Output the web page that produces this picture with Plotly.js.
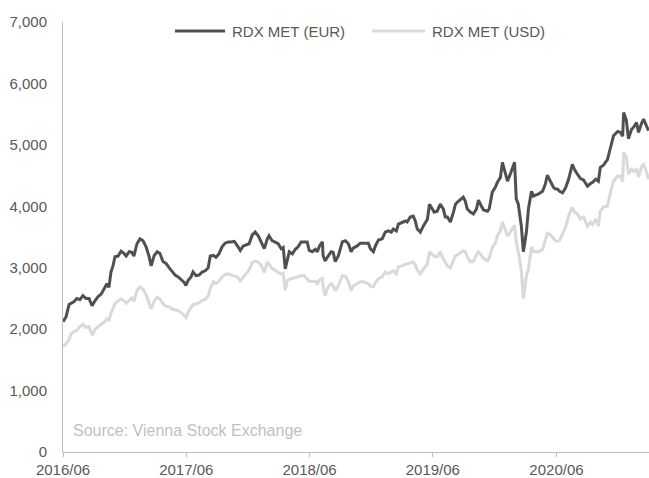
<!DOCTYPE html>
<html>
<head>
<meta charset="utf-8">
<script src="https://cdn.plot.ly/plotly-3.0.1.min.js"></script>
<style>html,body{margin:0;padding:0;background:#fff;}#chart{width:649px;height:478px;}</style>
</head>
<body>
<div id="chart"></div>
<script>
// ---- data ----
const dates = [
"2016-06-01","2016-06-10","2016-06-19","2016-06-25","2016-07-04","2016-07-12","2016-07-21","2016-07-30","2016-08-08","2016-08-17",
"2016-08-26","2016-09-04","2016-09-13","2016-09-22","2016-09-30","2016-10-09","2016-10-15","2016-10-21","2016-10-27","2016-11-02",
"2016-11-11","2016-11-20","2016-11-29","2016-12-05","2016-12-14","2016-12-22","2016-12-28","2017-01-06","2017-01-15","2017-01-24",
"2017-02-02","2017-02-11","2017-02-17","2017-02-26","2017-03-07","2017-03-15","2017-03-24",
"2017-04-02","2017-04-11","2017-04-20","2017-04-29","2017-05-08","2017-05-17","2017-05-26","2017-05-31","2017-06-06","2017-06-15",
"2017-06-21","2017-06-30","2017-07-09","2017-07-18","2017-07-27","2017-08-05","2017-08-11","2017-08-20","2017-08-28","2017-09-06",
"2017-09-15","2017-09-24","2017-10-03","2017-10-12","2017-10-21","2017-10-30","2017-11-08","2017-11-16","2017-11-25","2017-12-04",
"2017-12-13","2017-12-22","2017-12-31","2018-01-09","2018-01-18",
"2018-01-27","2018-02-01","2018-02-10","2018-02-19","2018-02-28","2018-03-09","2018-03-15","2018-03-21","2018-03-27","2018-04-02",
"2018-04-11","2018-04-20","2018-04-28","2018-05-07","2018-05-16","2018-05-25","2018-05-31","2018-06-09","2018-06-18","2018-06-24",
"2018-06-30","2018-07-09","2018-07-11","2018-07-17","2018-07-26","2018-08-04","2018-08-10","2018-08-16","2018-08-25","2018-09-06",
"2018-09-15","2018-09-24","2018-10-02","2018-10-08","2018-10-20","2018-10-29","2018-11-07",
"2018-11-13","2018-11-22","2018-11-28","2018-12-07","2018-12-13","2018-12-22","2019-01-02","2019-01-11","2019-01-20","2019-01-29",
"2019-02-04","2019-02-13","2019-02-19","2019-03-03","2019-03-12","2019-03-17","2019-03-26","2019-04-04","2019-04-10","2019-04-16",
"2019-04-25","2019-05-04","2019-05-16","2019-05-22","2019-05-31","2019-06-05","2019-06-14","2019-06-23","2019-07-02","2019-07-08",
"2019-07-14","2019-07-23","2019-08-01","2019-08-07","2019-08-13","2019-08-22","2019-08-30","2019-09-05",
"2019-09-11","2019-09-20","2019-09-29","2019-10-08","2019-10-14","2019-10-23","2019-10-29","2019-11-10","2019-11-15","2019-11-24",
"2019-12-03","2019-12-09","2019-12-18","2019-12-24","2019-12-30","2020-01-08","2020-01-14","2020-01-23","2020-01-29","2020-02-03",
"2020-02-09","2020-02-18","2020-02-24","2020-03-04","2020-03-10","2020-03-19","2020-03-25","2020-03-31","2020-04-09","2020-04-21",
"2020-04-29","2020-05-05","2020-05-14","2020-05-23","2020-05-29","2020-06-04","2020-06-10",
"2020-06-19","2020-06-28","2020-07-07","2020-07-18","2020-07-24","2020-08-02","2020-08-11","2020-08-20","2020-09-01","2020-09-10",
"2020-09-16","2020-09-25","2020-10-03","2020-10-09","2020-10-18","2020-10-30","2020-11-08","2020-11-17","2020-11-29","2020-12-08",
"2020-12-14","2020-12-17","2020-12-25","2020-12-31","2021-01-09","2021-01-15","2021-01-24","2021-01-30","2021-02-08","2021-02-14",
"2021-02-23","2021-03-01"
];

const rdxEur = [
2120,2200,2400,2420,2450,2500,2480,2545,2500,2500,
2380,2465,2530,2570,2640,2740,2680,2930,3030,3180,
3190,3270,3230,3190,3260,3250,3190,3390,3470,3440,
3340,3180,3030,3200,3260,3230,3100,
3070,3000,2930,2880,2850,2800,2760,2710,2790,2850,
2930,2870,2880,2930,2950,3000,3190,3200,3170,3230,
3340,3400,3420,3420,3430,3360,3280,3350,3370,3390,
3530,3580,3520,3420,3310,
3470,3520,3440,3420,3390,3310,3330,2980,3110,3260,
3225,3300,3340,3420,3420,3420,3280,3260,3300,3260,
3350,3420,3200,3110,3190,3260,3250,3100,3190,3420,
3440,3390,3260,3320,3355,3400,3400,
3400,3400,3310,3260,3355,3450,3470,3580,3600,3580,
3630,3600,3710,3745,3760,3745,3825,3840,3760,3630,
3580,3680,3790,4035,3955,3905,3920,4035,3955,3825,
3825,3745,3905,4035,4070,4120,4150,4085,
3955,3905,3875,3955,4100,4000,3940,3920,3960,4230,
4310,4390,4470,4715,4600,4410,4490,4635,4715,4120,
4035,3680,3260,3580,3955,4245,4165,4180,4200,4245,
4360,4505,4410,4310,4280,4280,4245,
4220,4300,4440,4684,4603,4522,4450,4430,4327,4370,
4392,4440,4408,4635,4668,4760,4959,5150,5219,5200,
5140,5527,5400,5100,5251,5284,5365,5203,5350,5420,
5300,5230
];

const rdxUsd = [
1720,1760,1830,1930,1960,1980,2040,2075,2030,2040,
1900,1995,2040,2070,2110,2170,2150,2260,2330,2415,
2460,2490,2460,2420,2470,2510,2450,2630,2690,2650,
2560,2420,2330,2460,2520,2490,2415,
2370,2365,2330,2315,2300,2270,2210,2190,2270,2340,
2400,2410,2430,2470,2485,2540,2660,2770,2745,2780,
2850,2890,2900,2880,2870,2850,2790,2840,2890,2960,
3080,3110,3090,3040,2920,
3096,3060,2990,2960,2920,2900,2910,2630,2790,2810,
2820,2840,2855,2870,2870,2820,2780,2775,2780,2740,
2800,2830,2700,2545,2690,2740,2700,2626,2700,2870,
2860,2770,2630,2700,2740,2770,2770,
2755,2740,2700,2690,2760,2820,2850,2930,2900,2930,
2950,2900,3015,3030,3060,3060,3080,3096,3050,2960,
2900,2980,3060,3258,3209,3190,3177,3258,3144,3080,
3031,3000,3100,3193,3210,3250,3274,3260,
3177,3096,3100,3210,3258,3200,3150,3115,3160,3330,
3400,3517,3600,3744,3663,3517,3560,3640,3690,3420,
3258,2950,2496,2869,2982,3339,3258,3265,3258,3300,
3468,3560,3540,3468,3436,3430,3440,
3550,3663,3841,3987,3906,3874,3792,3825,3679,3744,
3700,3792,3680,3922,3987,4003,4230,4408,4489,4489,
4400,4878,4797,4522,4603,4570,4600,4480,4651,4680,
4550,4440
];

const seriesNames = ["RDX MET (EUR)", "RDX MET (USD)"];
const tickDates = ["2016-06-01","2017-06-01","2018-06-01","2019-06-01","2020-06-01"];
const tickLabels = ["2016/06","2017/06","2018/06","2019/06","2020/06"];
const sourceText = "Source: Vienna Stock Exchange";

// ---- styles ----
const eurColor = "#505050";
const usdColor = "#d9d9d9";
const textColor = "#595959";
const font = "Liberation Sans, Arial, sans-serif";

const traces = [
  {x: dates, y: rdxUsd, name: seriesNames[1], type: "scatter", mode: "lines",
   line: {color: usdColor, width: 3}},
  {x: dates, y: rdxEur, name: seriesNames[0], type: "scatter", mode: "lines",
   line: {color: eurColor, width: 3}}
];

const layout = {
  width: 649, height: 478,
  margin: {l: 63, r: 0, t: 22, b: 26, pad: 0},
  paper_bgcolor: "#fff", plot_bgcolor: "#fff",
  font: {family: font, size: 15, color: textColor},
  showlegend: false,
  xaxis: {
    type: "date",
    range: ["2016-06-01", "2021-03-02"],
    tickvals: tickDates, ticktext: tickLabels,
    showgrid: false, zeroline: false,
    showline: true, linecolor: "#bfbfbf", linewidth: 1,
    ticks: "outside", ticklen: 4, tickcolor: "#bfbfbf",
    tickfont: {family: font, size: 15, color: textColor}
  },
  yaxis: {
    range: [0, 7000], dtick: 1000, tick0: 0,
    tickformat: ",d",
    showgrid: false, zeroline: false,
    showline: true, linecolor: "#bfbfbf", linewidth: 1,
    ticks: "", ticklabelstandoff: 12,
    tickfont: {family: font, size: 15, color: textColor}
  },
  shapes: [
    {type: "line", xref: "paper", yref: "paper", x0: 0.1911, x1: 0.2765, y0: 0.979, y1: 0.979,
     line: {color: eurColor, width: 3}},
    {type: "line", xref: "paper", yref: "paper", x0: 0.5273, x1: 0.6177, y0: 0.979, y1: 0.979,
     line: {color: usdColor, width: 3}}
  ],
  annotations: [
    {xref: "paper", yref: "paper", x: 0.2850, y: 0.979, xanchor: "left", yanchor: "middle",
     text: seriesNames[0], showarrow: false, font: {family: font, size: 15, color: textColor}},
    {xref: "paper", yref: "paper", x: 0.6263, y: 0.979, xanchor: "left", yanchor: "middle",
     text: seriesNames[1], showarrow: false, font: {family: font, size: 15, color: textColor}},
    {xref: "paper", yref: "paper", x: 0.0140, y: 0.049, xanchor: "left", yanchor: "middle",
     text: sourceText, showarrow: false, font: {family: font, size: 16, color: "#bfbfbf"}}
  ]
};

Plotly.newPlot("chart", traces, layout, {staticPlot: true, displayModeBar: false});
</script>
</body>
</html>
